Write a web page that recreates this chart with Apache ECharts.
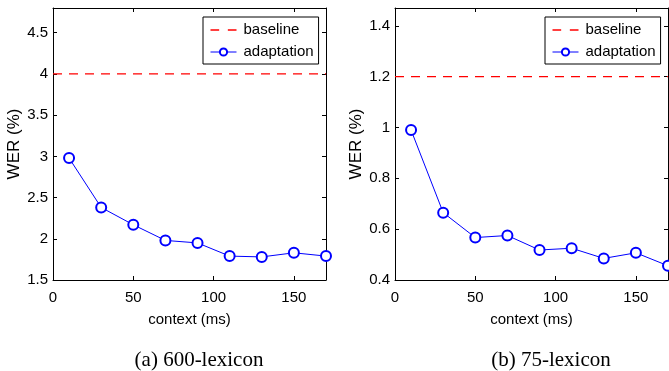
<!DOCTYPE html>
<html>
<head>
<meta charset="utf-8">
<script src="https://cdn.jsdelivr.net/npm/echarts@6/dist/echarts.min.js"></script>
<style>
  html, body { margin: 0; padding: 0; background: #fff; }
  #chart { width: 669px; height: 371px; }
</style>
</head>
<body>
<div id="chart"></div>
<script>
// context length (ms) on the x axis
const contextMs = [10, 30, 50, 70, 90, 110, 130, 150, 170]
// WER (%) with adaptation
const wer600 = [2.98, 2.38, 2.17, 1.98, 1.95, 1.79, 1.78, 1.83, 1.79]
const wer75 = [0.99, 0.665, 0.567, 0.575, 0.518, 0.525, 0.485, 0.507, 0.456]
// baseline WER (%)
const baseline600 = 4.0
const baseline75 = 1.2
const xRange = [0, 170]
const captions = ['(a) 600-lexicon', '(b) 75-lexicon']

const sans = 'Liberation Sans, Arial, sans-serif'
const tickFont = { fontFamily: sans, fontSize: 15, color: '#000' }
const black = { color: '#000', width: 1 }
const red = '#ff0000'
const blue = '#0000ff'

const grids = [
  { left: 53, top: 8, width: 273, height: 272 },
  { left: 395, top: 8, width: 273, height: 272 }
]
const yRanges = [
  { min: 1.5, max: 4.8, interval: 0.5 },
  { min: 0.4, max: 1.47, interval: 0.2 }
]

const xAxes = []
const yAxes = []
grids.forEach((g, i) => {
  xAxes.push({
    type: 'value', gridIndex: i, position: 'bottom',
    min: xRange[0], max: xRange[1], interval: 50,
    name: 'context (ms)', nameLocation: 'middle', nameGap: 32,
    nameTextStyle: { fontFamily: sans, fontSize: 15, color: '#000' },
    axisLine: { onZero: false, lineStyle: black },
    axisTick: { inside: true, length: 4, lineStyle: black },
    axisLabel: { ...tickFont, margin: 10, showMaxLabel: false },
    splitLine: { show: false }
  })
  xAxes.push({
    type: 'value', gridIndex: i, position: 'top',
    min: xRange[0], max: xRange[1], interval: 50,
    axisLine: { onZero: false, lineStyle: black },
    axisTick: { inside: true, length: 4, lineStyle: black },
    axisLabel: { show: false },
    splitLine: { show: false }
  })
  yAxes.push({
    type: 'value', gridIndex: i, position: 'left',
    ...yRanges[i],
    name: 'WER (%)', nameLocation: 'middle', nameGap: 30, nameRotate: 90,
    nameTextStyle: { fontFamily: sans, fontSize: 17, color: '#000' },
    axisLine: { onZero: false, lineStyle: black },
    axisTick: { inside: true, length: 4, lineStyle: black },
    axisLabel: { ...tickFont, margin: 5, showMaxLabel: false },
    splitLine: { show: false }
  })
  yAxes.push({
    type: 'value', gridIndex: i, position: 'right',
    ...yRanges[i],
    axisLine: { onZero: false, lineStyle: black },
    axisTick: { inside: true, length: 4, lineStyle: black },
    axisLabel: { show: false },
    splitLine: { show: false }
  })
})

const baselines = [baseline600, baseline75]
const adapted = [wer600, wer75]
const series = []
grids.forEach((g, i) => {
  series.push({
    name: 'baseline', type: 'line', xAxisIndex: i * 2, yAxisIndex: i * 2,
    data: xRange.map(x => [x, baselines[i]]),
    symbol: 'none', silent: true,
    lineStyle: { color: red, width: 1.2, type: [9, 7] },
    itemStyle: { color: red }
  })
  series.push({
    name: 'adaptation', type: 'line', xAxisIndex: i * 2, yAxisIndex: i * 2,
    data: contextMs.map((x, k) => [x, adapted[i][k]]),
    symbol: 'emptyCircle', symbolSize: 10,
    lineStyle: { color: blue, width: 1 },
    itemStyle: { color: blue, borderWidth: 1 }
  })
})

// two short dashes for the baseline legend key
const dashIcon = 'path://M0,0h8v1.2h-8zM16,0h8v1.2h-8z'

const legends = grids.map((g, i) => ({
  left: i === 0 ? 203 : 545, top: 17,
  orient: 'vertical',
  data: [
    { name: 'baseline', icon: dashIcon, itemStyle: { color: red } },
    { name: 'adaptation', lineStyle: { width: 1 }, itemStyle: { borderWidth: 1 } }
  ],
  borderColor: '#000', borderWidth: 1, borderRadius: 0,
  padding: [4, 5, 3, 7],
  itemWidth: 26, itemHeight: 9, itemGap: 4,
  textStyle: { fontFamily: sans, fontSize: 15, color: '#000', lineHeight: 18, padding: [0, 0, 0, 2] },
  selectedMode: false
}))

const chart = echarts.init(document.getElementById('chart'), null, { renderer: 'canvas' })
chart.setOption({
  animation: false,
  backgroundColor: '#fff',
  grid: grids,
  xAxis: xAxes,
  yAxis: yAxes,
  legend: legends,
  series: series,
  graphic: [
    { type: 'text', x: 199, y: 360, style: { text: captions[0], font: '21px "Liberation Serif", "Times New Roman", serif', fill: '#000', align: 'center', verticalAlign: 'middle' } },
    { type: 'text', x: 551, y: 360, style: { text: captions[1], font: '21px "Liberation Serif", "Times New Roman", serif', fill: '#000', align: 'center', verticalAlign: 'middle' } }
  ]
})
</script>
</body>
</html>
